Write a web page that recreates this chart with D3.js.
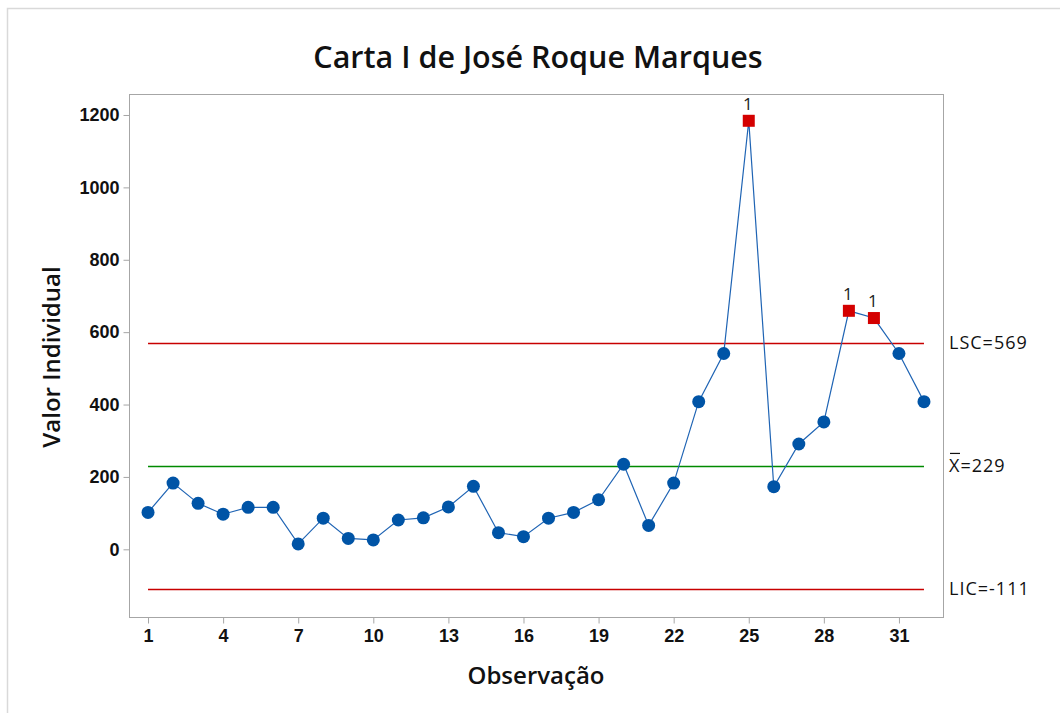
<!DOCTYPE html>
<html>
<head>
<meta charset="utf-8">
<script src="https://cdn.jsdelivr.net/npm/d3@7"></script>
<style>
  body { margin: 0; background: #fff; }
  svg { display: block; font-family: "Open Sans", "Noto Sans", sans-serif; }
</style>
</head>
<body>
<div id="chart"></div>
<script>
// Carta I (individual values chart) data

var observations = d3.range(1, 33);
var values = [102, 183, 127, 97, 116, 116, 15, 86, 30, 26,
              81, 87, 117, 174, 46, 35, 86, 102, 137, 235,
              66, 183, 408, 541, 1184, 173, 291, 352, 659, 639,
              541, 408];
var xTicks = [1, 4, 7, 10, 13, 16, 19, 22, 25, 28, 31];
var yTicks = [0, 200, 400, 600, 800, 1000, 1200];
var limitNames = ["LSC", "X", "LIC"];
var limitValues = [569, 229, -111];
var limitColors = ["#c80000", "#008a00", "#c80000"];

var W = 1060, H = 713;
var plot = { left: 129, right: 943, top: 94, bottom: 617 };

var svg = d3.select("#chart").append("svg")
  .attr("width", W).attr("height", H);

// faint outer frame
svg.append("rect")
  .attr("x", 7.5).attr("y", 8.5).attr("width", 1200).attr("height", 900)
  .attr("fill", "none").attr("stroke", "#d9d9d9").attr("stroke-width", 1.5);

var x = d3.scaleLinear().domain([0.24, 32.76]).range([plot.left, plot.right]);
var y = d3.scaleLinear().domain([-187, 1258]).range([plot.bottom, plot.top]);

// plot frame
svg.append("rect")
  .attr("x", plot.left + 0.5).attr("y", plot.top + 0.5)
  .attr("width", plot.right - plot.left).attr("height", plot.bottom - plot.top)
  .attr("fill", "none").attr("stroke", "#a6a6a6").attr("stroke-width", 1);

// axes
var yAxis = svg.append("g")
  .attr("transform", "translate(" + (plot.left + 0.5) + ",0)")
  .call(d3.axisLeft(y).tickValues(yTicks).tickSize(6).tickPadding(4).tickFormat(d3.format("d")));
var xAxis = svg.append("g")
  .attr("transform", "translate(0," + (plot.bottom + 0.5) + ")")
  .call(d3.axisBottom(x).tickValues(xTicks).tickSize(6).tickPadding(6));

[yAxis, xAxis].forEach(function (g) {
  g.select(".domain").remove();
  g.selectAll(".tick line").attr("stroke", "#a6a6a6");
  g.selectAll(".tick text")
    .attr("fill", "#111")
    .style("font-size", "18px")
    .style("font-weight", "600");
});

// control limits
limitValues.forEach(function (v, i) {
  svg.append("line")
    .attr("x1", x(1)).attr("x2", x(32))
    .attr("y1", Math.round(y(v)) + 0.5).attr("y2", Math.round(y(v)) + 0.5)
    .attr("stroke", limitColors[i]).attr("stroke-width", 1.4);

  svg.append("text")
    .attr("x", 949).attr("y", y(v) + 6)
    .attr("fill", "#111")
    .style("font-size", "18px")
    .style("letter-spacing", "1px")
    .text(limitNames[i] + "=" + v);
  if (limitNames[i] === "X") {
    // bar over the X
    svg.append("line")
      .attr("x1", 950).attr("x2", 960)
      .attr("y1", y(v) - 13).attr("y2", y(v) - 13)
      .attr("stroke", "#111").attr("stroke-width", 1.2);
  }
});

// series line
var line = d3.line()
  .x(function (d, i) { return x(observations[i]); })
  .y(function (d) { return y(d); });

svg.append("path")
  .datum(values)
  .attr("d", line)
  .attr("fill", "none")
  .attr("stroke", "#1f64b4")
  .attr("stroke-width", 1.2);

var data = values.map(function (v, i) {
  return { obs: observations[i], val: v, out: v > limitValues[0] || v < limitValues[2] };
});

svg.selectAll("circle.pt")
  .data(data.filter(function (d) { return !d.out; }))
  .enter().append("circle")
  .attr("class", "pt")
  .attr("cx", function (d) { return x(d.obs); })
  .attr("cy", function (d) { return y(d.val); })
  .attr("r", 6.5)
  .attr("fill", "#0054a6");

var outs = data.filter(function (d) { return d.out; });
svg.selectAll("rect.out")
  .data(outs)
  .enter().append("rect")
  .attr("class", "out")
  .attr("x", function (d) { return x(d.obs) - 6; })
  .attr("y", function (d) { return y(d.val) - 6; })
  .attr("width", 12).attr("height", 12)
  .attr("fill", "#d40000");

svg.selectAll("text.flag")
  .data(outs)
  .enter().append("text")
  .attr("class", "flag")
  .attr("x", function (d) { return x(d.obs) - 1; })
  .attr("y", function (d) { return y(d.val) - 11; })
  .attr("text-anchor", "middle")
  .attr("fill", "#222")
  .style("font-size", "17px")
  .text("1");

// titles
svg.append("text")
  .attr("x", 538).attr("y", 68)
  .attr("text-anchor", "middle")
  .attr("fill", "#111")
  .style("font-size", "30.5px")
  .style("font-weight", "600")
  .text("Carta I de José Roque Marques");

svg.append("text")
  .attr("x", 536).attr("y", 684)
  .attr("text-anchor", "middle")
  .attr("fill", "#111")
  .style("font-size", "24px")
  .style("font-weight", "600")
  .text("Observação");

svg.append("text")
  .attr("transform", "translate(60,357) rotate(-90)")
  .attr("text-anchor", "middle")
  .attr("fill", "#111")
  .style("font-size", "24px")
  .style("font-weight", "600")
  .text("Valor Individual");
</script>
</body>
</html>
